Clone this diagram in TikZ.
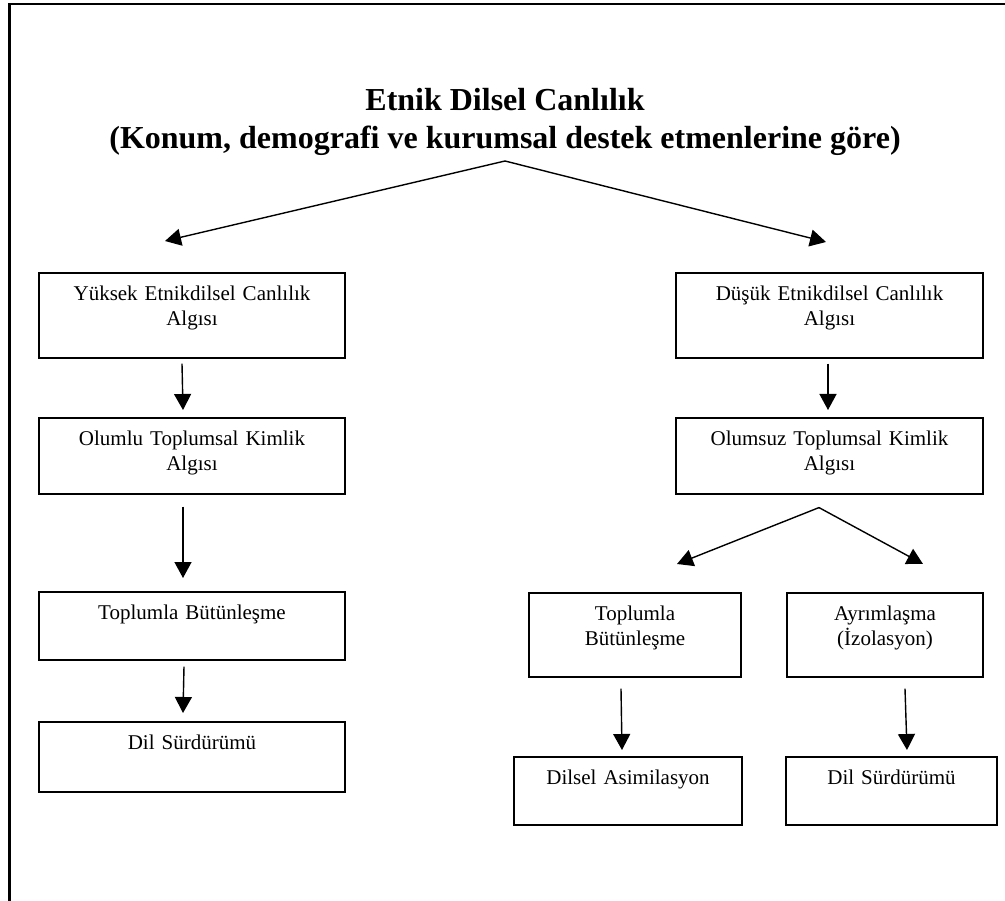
\documentclass[tikz,border=0pt]{standalone}
\usepackage{fontspec}
\setmainfont{Liberation Serif}
\usetikzlibrary{arrows.meta}

\begin{document}
\begin{tikzpicture}[
    x=1pt, y=-1pt,
    box/.style={draw, line width=1.6pt, align=center, anchor=north,
        inner xsep=0pt, inner ysep=14pt, text height=14pt, text depth=#1,
        font=\fontsize{21}{25}\selectfont},
    box/.default=26pt,
    heading/.style={anchor=base, font=\bfseries\fontsize{32}{38}\selectfont},
    arrow/.style={-{Triangle[length=16pt,width=17pt]}, line width=1.4pt}
]
\useasboundingbox (0,0) rectangle (1005,901);

% ---- frame ----
\draw[line width=2.5pt] (9.5,901) -- (9.5,4) -- (1005,4);

% ---- heading ----
\node[heading] (title) at (505,111) {Etnik Dilsel Canlılık};
\node[heading] (subtitle) at (505,149) {(Konum, demografi ve kurumsal destek etmenlerine göre)};
\coordinate (apex) at (505,161);

% ---- left branch ----
\node[box=43pt, text width=306pt] (yuksek) at (192,272) {Yüksek Etnikdilsel Canlılık\\Algısı};
\node[box=34pt, text width=306pt] (olumlu) at (192,417) {Olumlu Toplumsal Kimlik\\Algısı};
\node[box=26pt, text width=306pt] (butun) at (192,591) {Toplumla Bütünleşme};
\node[box=28pt, text width=306pt] (surdur) at (192,721) {Dil Sürdürümü};

% ---- right branch ----
\node[box=43pt, text width=307pt] (dusuk) at (829.5,272) {Düşük Etnikdilsel Canlılık\\Algısı};
\node[box=34pt, text width=307pt] (olumsuz) at (829.5,417) {Olumsuz Toplumsal Kimlik\\Algısı};
\node[box=42pt, text width=212pt] (butunR) at (635,592) {Toplumla\\Bütünleşme};
\node[box=42pt, text width=196pt] (ayrim) at (885,592) {Ayrımlaşma\\(İzolasyon)};
\node[box=26pt, text width=228pt] (asim) at (628,756) {Dilsel Asimilasyon};
\node[box=26pt, text width=211pt] (surdurR) at (891.5,756) {Dil Sürdürümü};

% heading split
\draw[arrow] (apex) -- ([xshift=-27pt,yshift=31pt]yuksek.north);
\draw[arrow] (apex) -- ([xshift=-3.5pt,yshift=30pt]dusuk.north);

% left arrows
\draw[arrow] ([xshift=-10pt,yshift=-5pt]yuksek.south) -- ([xshift=-9pt,yshift=7pt]olumlu.north);
\draw[arrow] ([xshift=-9pt,yshift=-12pt]olumlu.south) -- ([xshift=-9pt,yshift=13pt]butun.north);
\draw[arrow] ([xshift=-8pt,yshift=-6pt]butun.south) -- ([xshift=-9pt,yshift=8pt]surdur.north);

% right arrows
\draw[arrow] ([xshift=-1.5pt,yshift=-5pt]dusuk.south) -- ([xshift=-1.5pt,yshift=7pt]olumsuz.north);
\coordinate (split) at ([xshift=-10.5pt,yshift=-13pt]olumsuz.south);
\draw[arrow] (split) -- ([xshift=42pt,yshift=28pt]butunR.north);
\draw[arrow] (split) -- ([xshift=38pt,yshift=28pt]ayrim.north);
\draw[arrow] ([xshift=-14pt,yshift=-11pt]butunR.south) -- ([xshift=-6pt,yshift=6pt]asim.north);
\draw[arrow] ([xshift=20pt,yshift=-11pt]ayrim.south) -- ([xshift=15.5pt,yshift=6pt]surdurR.north);
\end{tikzpicture}
\end{document}
